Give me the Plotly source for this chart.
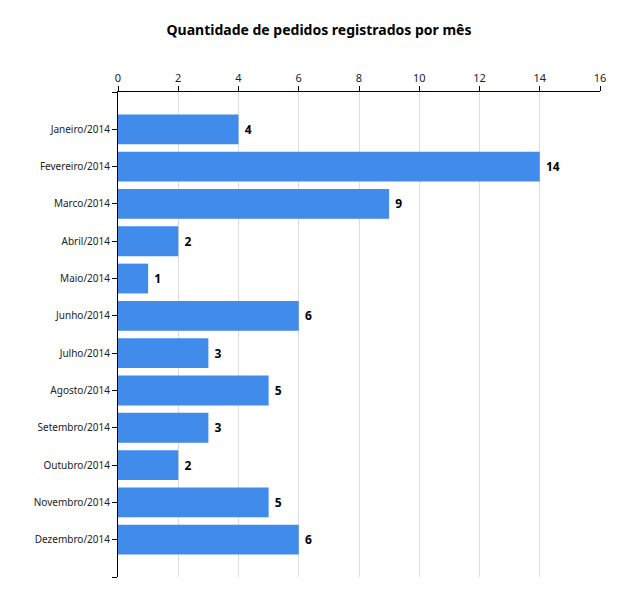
import plotly.graph_objects as go

# Monthly order counts
meses = [
    "Janeiro/2014", "Fevereiro/2014", "Marco/2014", "Abril/2014",
    "Maio/2014", "Junho/2014", "Julho/2014", "Agosto/2014",
    "Setembro/2014", "Outubro/2014", "Novembro/2014", "Dezembro/2014",
]
pedidos = [4, 14, 9, 2, 1, 6, 3, 5, 3, 2, 5, 6]
x_ticks = [0, 2, 4, 6, 8, 10, 12, 14, 16]

posicoes = list(range(len(meses)))

fig = go.Figure()
fig.add_trace(go.Bar(
    x=pedidos,
    y=posicoes,
    orientation="h",
    width=0.8,
    marker=dict(color="#418BEB", line=dict(width=0)),
    text=["\u00a0" + str(v) for v in pedidos],
    textposition="outside",
    textfont=dict(family="Noto Sans", size=12, color="black", weight="bold"),
    cliponaxis=False,
    showlegend=False,
))

# y ticks at each month plus both axis ends
y_tickvals = [-1] + posicoes + [len(meses)]
y_ticktext = [""] + meses + [""]

# page body adds an 8px offset, so the figure is a bit smaller than the window
fig.update_layout(
    width=622,
    height=597,
    title=dict(
        text="<b>Quantidade de pedidos registrados por mês</b>",
        x=0.5, xanchor="center", y=0.963, yanchor="middle",
        font=dict(family="Noto Sans", size=14, color="black"),
    ),
    font=dict(family="Noto Sans", size=10, color="#222222"),
    plot_bgcolor="white",
    paper_bgcolor="white",
    margin=dict(l=110, r=30, t=84, b=28),
    bargap=0.2,
    xaxis=dict(
        side="top",
        range=[0, 16],
        tickvals=x_ticks,
        ticks="outside",
        ticklen=5,
        tickcolor="black",
        showline=True,
        linecolor="black",
        linewidth=1,
        showgrid=True,
        gridcolor="#DDDDDD",
        gridwidth=1,
        zeroline=False,
        tickfont=dict(size=11),
    ),
    yaxis=dict(
        range=[len(meses), -1],
        tickvals=y_tickvals,
        ticktext=y_ticktext,
        ticks="outside",
        ticklen=5,
        tickcolor="black",
        showline=True,
        linecolor="black",
        linewidth=1,
        showgrid=False,
        zeroline=False,
    ),
)

fig.write_html("out.html")
